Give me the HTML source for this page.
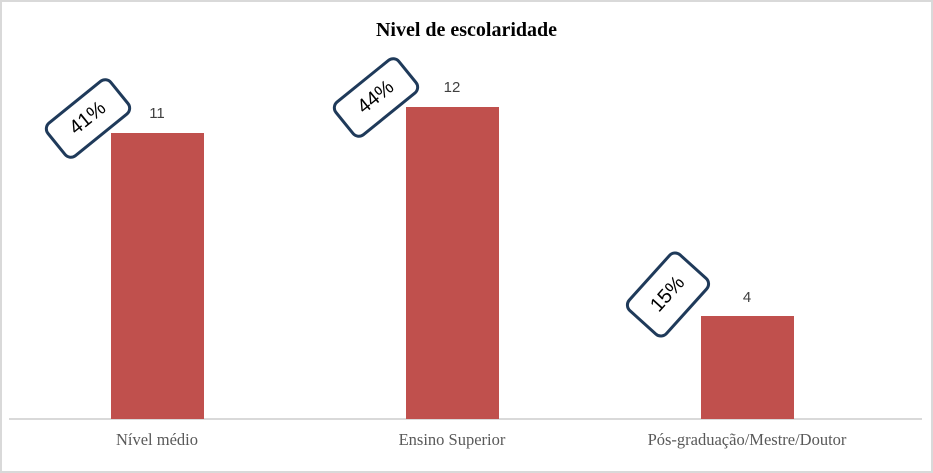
<!DOCTYPE html>
<html><head><style>
body{margin:0;background:#fff}
#c{position:relative;width:933px;height:473px;overflow:hidden;font-family:"Liberation Serif",serif}
.frame{position:absolute;left:0;top:0;width:929px;height:469px;border:2px solid #d9d9d9}
.bar{position:absolute;background:#c0504d;width:93px}
.v{position:absolute;font-family:"Liberation Sans",sans-serif;font-size:15px;color:#404040;width:60px;text-align:center}
.cat{position:absolute;top:430px;font-size:16.5px;color:#595959;width:300px;text-align:center}
.b{position:absolute;border:3.5px solid #1f3a5a;border-radius:9px;background:#fff;box-sizing:border-box;display:flex;align-items:center;justify-content:center;font-family:"Liberation Sans",sans-serif;font-size:20px;color:#000}
</style></head><body><div id="c">
<div class="frame"></div>
<div style="position:absolute;top:19px;left:0;width:933px;text-align:center;font-weight:bold;font-size:20px;color:#000">Nivel de escolaridade</div>
<div style="position:absolute;left:9px;top:418px;width:913px;height:2px;background:#d9d9d9"></div>
<div class="bar" style="left:111px;top:133px;height:286px"></div>
<div class="bar" style="left:406px;top:107px;height:312px"></div>
<div class="bar" style="left:701px;top:316px;height:103px"></div>
<div class="v" style="left:127px;top:105px">11</div>
<div class="v" style="left:422px;top:79px">12</div>
<div class="v" style="left:717px;top:289px">4</div>
<div class="cat" style="left:7px">Nível médio</div>
<div class="cat" style="left:302px">Ensino Superior</div>
<div class="cat" style="left:597px">Pós-graduação/Mestre/Doutor</div>
<div class="b" style="left:46px;top:96px;width:84px;height:45px;transform:rotate(-39deg)">41%</div>
<div class="b" style="left:334px;top:75px;width:84px;height:45px;transform:rotate(-39deg)">44%</div>
<div class="b" style="left:629px;top:268px;width:78px;height:53px;transform:rotate(-48deg)">15%</div>
</div></body></html>
